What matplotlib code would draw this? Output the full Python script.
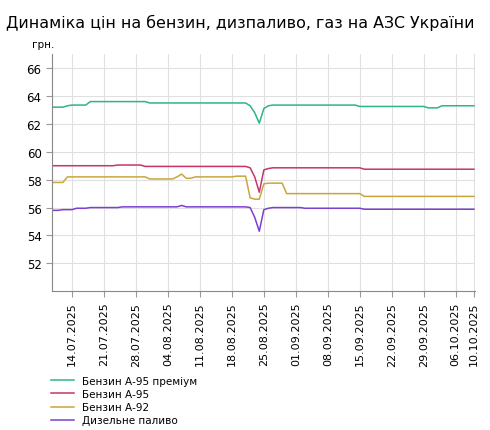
import matplotlib
matplotlib.use("Agg")
import matplotlib.pyplot as plt
import pandas as pd

dates = pd.date_range("2025-07-10", "2025-10-10", freq="D")
premium = [63.2]*3 + [63.3] + [63.35]*4 + [63.6]*13 + [63.5]*22 + [63.3, 62.8, 62.05, 63.1, 63.3] + [63.35]*19 + [63.25]*15 + [63.15]*3 + [63.3]*8
a95 = [59.0]*14 + [59.05]*6 + [58.95]*23 + [58.85, 58.2, 57.1, 58.7, 58.8] + [58.85]*20 + [58.75]*25
a92 = [57.8]*3 + [58.2]*18 + [58.05]*6 + [58.2, 58.4, 58.1, 58.1] + [58.2]*9 + [58.25]*3 + [56.7, 56.6, 56.6] + [57.7, 57.75, 57.75, 57.75, 57.75] + [57.0]*17 + [56.8]*25
diesel = [55.8]*2 + [55.85]*3 + [55.95]*3 + [56.0]*7 + [56.05]*13 + [56.15] + [56.05]*14 + [56.0, 55.3, 54.3, 55.85, 55.95] + [56.0]*7 + [55.95]*13 + [55.88]*25
names = ["Бензин А-95 преміум", "Бензин А-95", "Бензин А-92", "Дизельне паливо"]
colors = ["#2bb58b", "#c8336b", "#c9a63c", "#7d3fd0"]
tick_dates = list(pd.date_range("2025-07-14", "2025-10-06", freq="7D")) + [pd.Timestamp("2025-10-10")]

fig = plt.figure(figsize=(4.9, 4.31), dpi=100)
ax = fig.add_axes([0.106, 0.322, 0.864, 0.55])
for s, n, c in zip([premium, a95, a92, diesel], names, colors):
    ax.plot(dates, s, color=c, lw=1.1, label=n)
ax.set_ylim(50, 67)
ax.set_yticks(range(52, 67, 2))
ax.set_xlim(dates[0] - pd.Timedelta(days=0.4), dates[-1] + pd.Timedelta(days=0.3))
ax.set_xticks(tick_dates)
ax.set_xticklabels([d.strftime("%d.%m.%Y") for d in tick_dates], rotation=90, fontsize=8)
ax.tick_params(axis='y', labelsize=8.5, length=4, color="#999999")
ax.tick_params(axis='x', length=4, color="#999999")
ax.grid(True, color="#e0e0e0", lw=0.8)
for sp in ["top", "right"]:
    ax.spines[sp].set_visible(False)
for sp in ["left", "bottom"]:
    ax.spines[sp].set_color("#888888")
fig.text(0.012, 0.965, "Динаміка цін на бензин, дизпаливо, газ на АЗС України", fontsize=11.4, va="top")
fig.text(0.065, 0.895, "грн.", fontsize=7.5, va="center")
fig.legend(loc="upper left", bbox_to_anchor=(0.095, 0.135), frameon=False, fontsize=7.5,
           handlelength=2.2, labelspacing=0.3, borderaxespad=0)
fig.savefig("out.png", dpi=100)
